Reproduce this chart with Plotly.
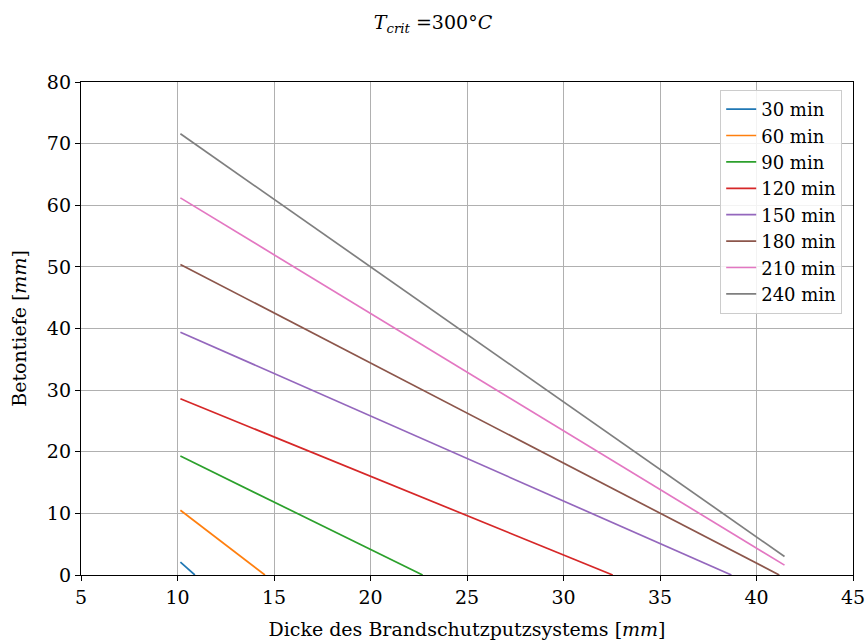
import plotly.graph_objects as go

labels = ["30 min", "60 min", "90 min", "120 min", "150 min", "180 min", "210 min", "240 min"]
colors = ["#1f77b4", "#ff7f0e", "#2ca02c", "#d62728", "#9467bd", "#8c564b", "#e377c2", "#7f7f7f"]
x_start = [10.15, 10.15, 10.15, 10.15, 10.15, 10.15, 10.15, 10.15]
y_start = [2.1, 10.5, 19.3, 28.6, 39.4, 50.4, 61.2, 71.6]
x_end = [10.9, 14.53, 22.7, 32.55, 38.7, 41.18, 41.45, 41.45]
y_end = [0.0, 0.0, 0.0, 0.0, 0.0, 0.0, 1.6, 3.0]

FONT = "DejaVu Serif"

fig = go.Figure()
for i, lab in enumerate(labels):
    fig.add_trace(go.Scatter(
        x=[x_start[i], x_end[i]], y=[y_start[i], y_end[i]],
        mode="lines", name=lab, line=dict(color=colors[i], width=1.7)))

axis_common = dict(
    showline=True, linecolor="black", linewidth=1.3, mirror=True,
    ticks="outside", ticklen=5, tickcolor="black", tickwidth=1.2,
    showgrid=True, gridcolor="#b0b0b0", gridwidth=1, zeroline=False,
    automargin=False,
    tickfont=dict(family=FONT, size=19, color="black"),
)

fig.update_layout(
    width=866, height=642,
    margin=dict(l=81, r=13, t=82, b=67),
    paper_bgcolor="white", plot_bgcolor="white",
    title=dict(text="<i>T</i><sub><i>crit</i></sub> =300°<i>C</i>", x=0.5, xanchor="center",
               y=0.965, yanchor="middle", font=dict(family=FONT, size=19, color="black")),
    xaxis=dict(range=[5, 45], dtick=5, tick0=5,
               title=dict(text="Dicke des Brandschutzputzsystems [<i>mm</i>]",
                          font=dict(family=FONT, size=19, color="black")),
               **axis_common),
    yaxis=dict(range=[0, 80], dtick=10,
               title=dict(text="Betontiefe [<i>mm</i>]",
                          font=dict(family=FONT, size=19, color="black")),
               **axis_common),
    legend=dict(x=0.986, y=0.984, xanchor="right", yanchor="top",
                bgcolor="rgba(255,255,255,0.85)", bordercolor="#cccccc", borderwidth=1,
                font=dict(family=FONT, size=18, color="black"), tracegroupgap=0),
    showlegend=True,
)

fig.write_html("out.html")
